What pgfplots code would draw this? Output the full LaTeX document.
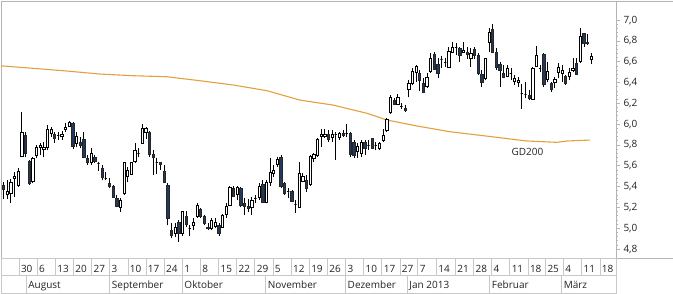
\documentclass[border=0pt]{standalone}
\usepackage{pgfplots}
\pgfplotsset{compat=1.18}
\usepackage{pgfplotstable}
\usepackage{fontspec}
\setmainfont{Open Sans}
\definecolor{gridgray}{HTML}{C8C8C8}
\definecolor{framegray}{HTML}{B4B4B4}
\definecolor{downfill}{HTML}{1F3A5C}
\definecolor{gdorange}{HTML}{E4A040}
\definecolor{txt}{HTML}{222222}

\pgfplotstableread{
k o h l c
1 5.41 5.44 5.28 5.37
2 5.33 5.46 5.28 5.35
3 5.34 5.47 5.24 5.44
4 5.48 5.54 5.30 5.50
5 5.41 5.58 5.40 5.55
6 5.69 6.12 5.68 5.92
7 5.89 5.92 5.68 5.72
8 5.64 5.66 5.42 5.43
9 5.45 5.68 5.43 5.67
10 5.70 5.80 5.67 5.78
11 5.78 5.82 5.70 5.80
12 5.76 5.83 5.68 5.78
13 5.78 5.99 5.75 5.95
14 5.91 5.97 5.88 5.95
15 5.90 5.92 5.82 5.86
16 5.89 5.92 5.85 5.89
17 5.88 5.93 5.85 5.90
18 5.95 6.01 5.92 5.97
19 5.98 6.03 5.97 6.02
20 6.01 6.02 5.76 5.79
21 5.82 5.92 5.78 5.88
22 5.83 5.88 5.77 5.80
23 5.85 5.92 5.67 5.68
24 5.67 5.70 5.61 5.63
25 5.63 5.77 5.61 5.72
26 5.68 5.70 5.63 5.64
27 5.62 5.64 5.55 5.62
28 5.58 5.61 5.46 5.49
29 5.48 5.54 5.46 5.48
30 5.43 5.48 5.39 5.40
31 5.40 5.42 5.30 5.30
32 5.29 5.32 5.20 5.21
33 5.20 5.29 5.16 5.27
34 5.34 5.64 5.32 5.63
35 5.50 5.59 5.44 5.56
36 5.52 5.64 5.51 5.63
37 5.64 5.82 5.63 5.75
38 5.72 5.77 5.68 5.72
39 5.82 6.00 5.82 5.96
40 5.92 5.97 5.86 5.96
41 5.92 5.93 5.68 5.71
42 5.71 5.75 5.51 5.68
43 5.63 5.67 5.52 5.63
44 5.63 5.64 5.56 5.61
45 5.55 5.61 5.43 5.44
46 5.41 5.43 5.03 5.10
47 4.98 5.05 4.91 4.93
48 4.95 5.05 4.92 5.01
49 5.06 5.08 4.87 4.95
50 4.95 5.17 4.93 5.16
51 5.11 5.17 5.01 5.04
52 5.00 5.03 4.93 5.00
53 5.03 5.10 4.98 5.06
54 5.11 5.24 5.10 5.22
55 5.18 5.19 5.10 5.11
56 5.11 5.13 5.03 5.05
57 5.01 5.05 4.98 5.00
58 5.00 5.10 4.98 5.08
59 5.02 5.10 5.00 5.06
60 5.03 5.05 4.93 4.95
61 5.01 5.14 5.00 5.12
62 5.13 5.24 5.10 5.21
63 5.22 5.41 5.21 5.39
64 5.38 5.41 5.30 5.31
65 5.33 5.41 5.27 5.39
66 5.38 5.40 5.20 5.22
67 5.24 5.29 5.13 5.21
68 5.21 5.28 5.16 5.19
69 5.20 5.30 5.13 5.27
70 5.29 5.32 5.24 5.29
71 5.30 5.43 5.27 5.40
72 5.42 5.46 5.24 5.25
73 5.25 5.46 5.24 5.44
74 5.44 5.67 5.41 5.54
75 5.53 5.61 5.49 5.56
76 5.61 5.68 5.59 5.66
77 5.68 5.70 5.39 5.40
78 5.43 5.44 5.32 5.34
79 5.35 5.39 5.29 5.35
80 5.35 5.37 5.25 5.26
81 5.23 5.27 5.15 5.23
82 5.20 5.64 5.19 5.53
83 5.45 5.53 5.44 5.50
84 5.46 5.51 5.35 5.38
85 5.42 5.70 5.41 5.69
86 5.67 5.72 5.64 5.71
87 5.70 5.87 5.68 5.85
88 5.88 5.95 5.78 5.90
89 5.88 5.95 5.87 5.90
90 5.90 5.94 5.83 5.85
91 5.87 5.94 5.83 5.90
92 5.90 5.92 5.66 5.90
93 5.87 5.92 5.85 5.91
94 5.91 5.94 5.88 5.89
95 5.91 6.00 5.88 5.91
96 5.91 5.92 5.68 5.71
97 5.83 5.85 5.67 5.70
98 5.74 5.82 5.67 5.79
99 5.72 5.85 5.68 5.83
100 5.83 5.85 5.70 5.77
101 5.80 5.85 5.75 5.80
102 5.86 5.87 5.76 5.77
103 5.80 5.83 5.75 5.80
104 5.77 5.83 5.75 5.82
105 5.84 5.95 5.83 5.89
106 5.94 6.06 5.92 6.05
107 6.11 6.28 6.10 6.26
108 6.23 6.25 6.18 6.19
109 6.19 6.29 6.18 6.26
110 6.17 6.20 6.15 6.17
111 6.15 6.18 6.12 6.13
112 6.33 6.42 6.26 6.39
113 6.39 6.54 6.38 6.51
114 6.50 6.57 6.40 6.56
115 6.49 6.52 6.32 6.42
116 6.39 6.44 6.30 6.31
117 6.36 6.49 6.35 6.45
118 6.51 6.68 6.49 6.63
119 6.67 6.69 6.52 6.53
120 6.57 6.64 6.44 6.49
121 6.62 6.65 6.54 6.62
122 6.59 6.64 6.55 6.59
123 6.55 6.74 6.54 6.70
124 6.69 6.79 6.68 6.74
125 6.74 6.78 6.66 6.74
126 6.73 6.74 6.60 6.66
127 6.69 6.79 6.68 6.71
128 6.69 6.74 6.63 6.67
129 6.63 6.73 6.55 6.68
130 6.72 6.74 6.63 6.66
131 6.66 6.68 6.47 6.49
132 6.48 6.52 6.36 6.40
133 6.44 6.64 6.42 6.63
134 6.79 6.92 6.69 6.88
135 6.91 6.96 6.68 6.69
136 6.69 6.73 6.52 6.55
137 6.57 6.60 6.36 6.52
138 6.49 6.57 6.44 6.45
139 6.46 6.57 6.45 6.54
140 6.49 6.54 6.42 6.49
141 6.41 6.47 6.38 6.44
142 6.40 6.45 6.36 6.42
143 6.30 6.39 6.15 6.30
144 6.29 6.40 6.25 6.29
145 6.28 6.33 6.23 6.25
146 6.24 6.55 6.23 6.54
147 6.56 6.75 6.55 6.66
148 6.54 6.57 6.50 6.54
149 6.67 6.68 6.36 6.38
150 6.43 6.60 6.40 6.51
151 6.39 6.40 6.31 6.33
152 6.40 6.45 6.35 6.43
153 6.50 6.59 6.44 6.55
154 6.49 6.57 6.40 6.52
155 6.46 6.47 6.38 6.39
156 6.46 6.54 6.42 6.50
157 6.52 6.64 6.50 6.54
158 6.58 6.64 6.47 6.48
159 6.60 6.92 6.59 6.84
160 6.87 6.88 6.74 6.78
161 6.79 6.87 6.76 6.78
162 6.62 6.68 6.58 6.65
}\candles

\pgfplotstableread{
k v
0.315 6.560
9.08 6.536
18.4 6.510
27.4 6.481
36.5 6.465
45.8 6.455
54.8 6.417
63.9 6.376
73.2 6.321
82.2 6.231
91.3 6.183
100.6 6.104
106.1 6.039
114.3 5.982
123.3 5.927
132.4 5.889
144.4 5.838
152.6 5.825
155.4 5.838
161.7 5.847
}\gdline

\begin{document}
\begin{tikzpicture}
\useasboundingbox (0,0) rectangle (673pt,-294pt);
\begin{axis}[
  name=main,
  at={(1pt,-258pt)}, anchor=south west,
  x=3.65pt, y=104.1pt,
  xmin=0.315, xmax=168.8, ymin=4.714, ymax=7.182,
  axis line style={framegray, line width=0.7pt},
  xtick=\empty,
  ytick={4.8,5.0,5.2,5.4,5.6,5.8,6.0,6.2,6.4,6.6,6.8,7.0},
  minor y tick num=4,
  ytick pos=right, yticklabel pos=right,
  tick align=outside,
  major tick length=4.5pt, minor tick length=2.5pt,
  every tick/.style={framegray, line width=0.6pt},
  /pgf/number format/assume math mode=true,
  yticklabel style={font=\fontsize{10}{12}\selectfont, text=txt, xshift=-0.5pt,
    /pgf/number format/.cd, use comma, fixed, fixed zerofill, precision=1},
]
\addplot[gdorange, line width=1.1pt, no marks] table[x=k, y=v] {\gdline};
\addplot[
  scatter, only marks, mark=*, mark size=0pt,
  mark options={draw=none, fill=none},
  visualization depends on={\thisrow{o} \as \vo},
  visualization depends on={\thisrow{h} \as \vh},
  visualization depends on={\thisrow{l} \as \vl},
  visualization depends on={\thisrow{c} \as \vc},
  scatter/@pre marker code/.code={%
    \pgfkeys{/pgf/fpu=false}%
    \pgfmathsetmacro\ph{(\vh-\vl)*104.1}%
    \pgfmathsetmacro\po{(\vo-\vl)*104.1}%
    \pgfmathsetmacro\pc{(\vc-\vl)*104.1}%
    \pgfmathtruncatemacro\isup{\vc>=\vo}%
    \draw[black, line width=0.7pt] (0pt,0pt) -- (0pt,\ph pt);%
    \ifnum\isup=1
      \filldraw[draw=black, fill=white, line width=0.6pt] (-1.15pt,\po pt) rectangle (1.15pt,\pc pt);%
    \else
      \filldraw[draw=black!85, fill=downfill, line width=0.6pt] (-1.15pt,\po pt) rectangle (1.15pt,\pc pt);%
    \fi
  },
  scatter/@post marker code/.code={},
] table[x=k, y=l] {\candles};
\node[font=\fontsize{10}{12}\selectfont, text=txt] at (axis cs:144.56,5.732) {GD200};
\end{axis}
\draw[framegray, line width=0.7pt] (main.north east) -- ++(57pt,0);
\draw[framegray, line width=0.7pt] (main.south east) -- ++(57pt,0);

% week row
\begin{axis}[
  at={(1pt,-275.7pt)}, anchor=south west,
  x=3.65pt, y=17.4pt,
  xmin=0.315, xmax=168.8, ymin=0, ymax=1,
  axis line style={gridgray, line width=0.7pt},
  ytick=\empty,
  xtick={5.25,10.22,15.19,20.16,25.13,30.1,35.07,40.04,45.01,49.98,54.95,59.92,64.89,69.86,74.83,79.8,84.77,89.74,94.71,99.68,104.65,109.6,114.5,119.6,124.8,129.8,134.7,139.7,144.7,149.5,154.4,159.4,164.4},
  xticklabels={30,6,13,20,27,3,10,17,24,1,8,15,22,29,5,12,19,26,3,10,17,27,7,14,21,28,4,11,18,25,4,11,18},
  xmajorgrids, grid style={gridgray, line width=0.7pt},
  major tick length=0pt,
  xticklabel style={anchor=base west, inner sep=0pt, xshift=1.8pt, yshift=3.4pt, font=\fontsize{10}{12}\selectfont, text=txt},
]
\end{axis}

% month row
\begin{axis}[
  at={(1pt,-293.3pt)}, anchor=south west,
  x=3.65pt, y=17.6pt,
  xmin=0.315, xmax=168.8, ymin=0, ymax=1,
  axis line style={gridgray, line width=0.7pt},
  ytick=\empty,
  xtick={7.2,30.1,49.98,72.84,94.71,111.6,134.2,153.9},
  xticklabels={August,September,Oktober,November,Dezember,Jan 2013,Februar,März},
  xmajorgrids, grid style={gridgray, line width=0.7pt},
  major tick length=0pt,
  xticklabel style={anchor=base west, inner sep=0pt, xshift=2pt, yshift=5pt, font=\fontsize{10}{12}\selectfont, text=txt},
]
\end{axis}
\end{tikzpicture}
\end{document}
